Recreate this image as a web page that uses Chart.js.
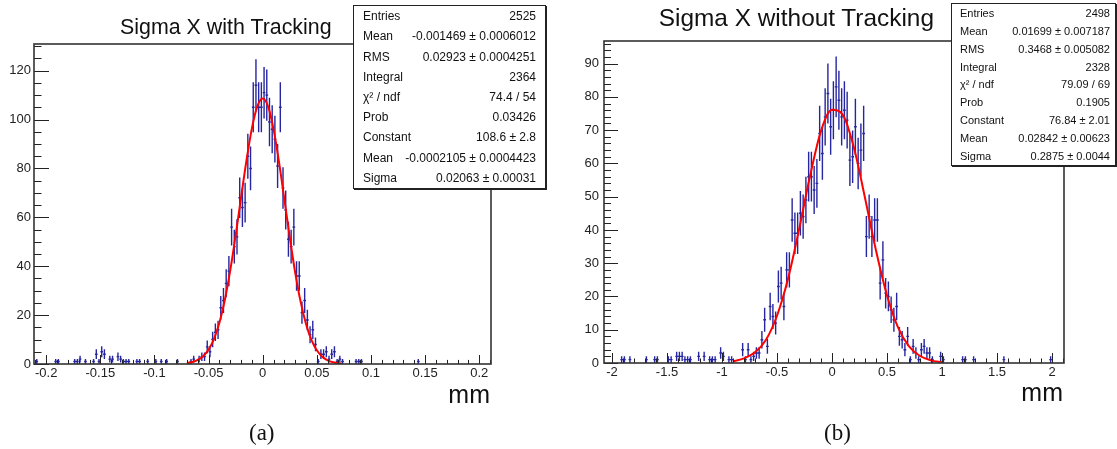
<!DOCTYPE html>
<html>
<head>
<meta charset="utf-8">
<script src="https://cdn.jsdelivr.net/npm/chart.js@4.4.1/dist/chart.umd.min.js"></script>
<style>
  body { margin: 0; background: #fff; }
  #wrap { position: relative; width: 1117px; height: 449px; overflow: hidden; font-family: 'Liberation Sans', Arial, sans-serif; color: #111; }
  canvas { position: absolute; top: 0; }
  .title { position: absolute; white-space: nowrap; line-height: 1; }
  .stats { position: absolute; background: #fff; border: 1px solid #222; box-shadow: 1px 1px 0 #222; box-sizing: border-box; }
  .stats .row { display: flex; justify-content: space-between; align-items: center; white-space: nowrap; }
  .unit { position: absolute; line-height: 1; font-size: 25px; }
  .cap { position: absolute; line-height: 1; font-family: 'Liberation Serif', 'DejaVu Serif', serif; font-size: 23px; }
</style>
</head>
<body>
<div id="wrap">
  <canvas id="chartA" width="560" height="449" style="left:0"></canvas>
  <canvas id="chartB" width="557" height="449" style="left:560px"></canvas>

  <div class="title" style="left:120px;top:17px;font-size:21.4px">Sigma X with Tracking</div>
  <div class="title" style="right:183px;top:6px;font-size:24.4px">Sigma X without Tracking</div>

  <div class="stats" id="statsA" style="left:353px;top:5px;width:193px;height:184px;font-size:12px;padding:0 9px"></div>
  <div class="stats" id="statsB" style="left:951px;top:3px;width:165px;height:163px;font-size:11px;padding:0 5px 0 8px"></div>

  <div class="unit" style="right:627px;top:382px">mm</div>
  <div class="unit" style="right:54px;top:380px">mm</div>
  <div class="cap" style="left:249px;top:421px">(a)</div>
  <div class="cap" style="left:824px;top:421px">(b)</div>
</div>

<script>
// ---- panel (a): with tracking, bin width 0.0025 mm ----
var binWA = 0.0025;
var centersA = [-0.20875, -0.19125, -0.18875, -0.17375, -0.17125, -0.16875, -0.16375, -0.15625,
  -0.15375, -0.15125, -0.14875, -0.14625, -0.14125, -0.13875, -0.13375, -0.13125, -0.12875,
  -0.12625, -0.12375, -0.11625, -0.11375, -0.10625, -0.09875, -0.09375, -0.08875, -0.07875,
  -0.06625, -0.06375, -0.05875, -0.05625, -0.05375, -0.05125, -0.04875, -0.04625, -0.04375,
  -0.04125, -0.03875, -0.03625, -0.03375, -0.03125, -0.02875, -0.02625, -0.02375, -0.02125,
  -0.01875, -0.01625, -0.01375, -0.01125, -0.00875, -0.00625, -0.00375, -0.00125,
  0.00125, 0.00375, 0.00625, 0.00875, 0.01125, 0.01375, 0.01625, 0.01875, 0.02125, 0.02375,
  0.02625, 0.02875, 0.03125, 0.03375, 0.03625, 0.03875, 0.04125, 0.04375, 0.04625, 0.04875,
  0.05125, 0.05375, 0.05625, 0.05875, 0.06125, 0.06375, 0.06625, 0.06875, 0.07125, 0.07375,
  0.08625, 0.08875, 0.09125, 0.14375];
var countsA = [1, 1, 1, 1, 1, 2, 1, 1,
  4, 1, 5, 4, 2, 2, 3, 2, 1,
  1, 1, 1, 1, 1, 1, 1, 1, 1,
  1, 2, 2, 3, 3, 7, 5, 10, 13,
  14, 23, 26, 33, 38, 56, 48, 52, 68,
  64, 66, 85, 80, 105, 114, 105, 105,
  111, 110, 99, 96, 92, 81, 105, 72, 63, 51,
  48, 56, 36, 36, 21, 26, 18, 12, 14, 8,
  1, 4, 4, 5, 2, 4, 5, 1, 2, 1,
  1, 1, 1, 1];
// red fit curve
var fitXA = [-0.07, -0.065, -0.06, -0.055, -0.05, -0.045, -0.04, -0.035, -0.03, -0.025, -0.02, -0.015,
  -0.01, -0.005, 0, 0.005, 0.01, 0.015, 0.02, 0.025, 0.03, 0.035, 0.04, 0.045, 0.05, 0.055, 0.06,
  0.065, 0.07, 0.073];
var fitYA = [0.35, 0.8, 1.7, 3.2, 5.9, 10.3, 16.9, 26.2, 38.3, 52.6, 68.1, 83.3,
  96.4, 105.4, 108.6, 105.3, 96.1, 82.8, 67.3, 51.8, 37.4, 25.5, 16.4, 9.9, 5.6, 3.0, 1.5,
  0.7, 0.3, 0.2];
var xTicksA = [-0.2, -0.15, -0.1, -0.05, 0, 0.05, 0.1, 0.15, 0.2];
var xLabelsA = ['-0.2', '-0.15', '-0.1', '-0.05', '0', '0.05', '0.1', '0.15', '0.2'];
var yTicksA = [0, 20, 40, 60, 80, 100, 120];

// ---- panel (b): without tracking, bin width 0.025 mm ----
var binWB = 0.025;
var centersB = [-1.9125, -1.8875, -1.8375, -1.6875, -1.6125, -1.5875, -1.4875, -1.4625, -1.4125,
  -1.3875, -1.3625, -1.3375, -1.3125, -1.2875, -1.2125, -1.1625, -1.1125, -1.0875, -1.0625,
  -1.0125, -0.9875, -0.9375, -0.9125, -0.8125, -0.7875, -0.7625, -0.7375, -0.7125, -0.6875,
  -0.6625, -0.6375, -0.6125, -0.5875, -0.5625, -0.5375, -0.5125, -0.4875, -0.4625, -0.4375,
  -0.4125, -0.3875, -0.3625, -0.3375, -0.3125, -0.2875, -0.2625, -0.2375, -0.2125, -0.1875,
  -0.1625, -0.1375, -0.1125, -0.0875, -0.0625, -0.0375, -0.0125, 0.0125, 0.0375, 0.0625,
  0.0875, 0.1125, 0.1375, 0.1625, 0.1875, 0.2125, 0.2375, 0.2625, 0.2875, 0.3125, 0.3375,
  0.3625, 0.3875, 0.4125, 0.4375, 0.4625, 0.4875, 0.5125, 0.5375, 0.5625, 0.5875, 0.6125,
  0.6375, 0.6625, 0.6875, 0.7125, 0.7375, 0.7625, 0.7875, 0.8125, 0.8375, 0.8625, 0.8875,
  0.9125, 0.9875, 1.0125, 1.1875, 1.2125, 1.2875, 1.5625, 1.9875];
var countsB = [1, 1, 1, 1, 1, 1, 1, 1, 2,
  2, 2, 1, 1, 1, 2, 2, 1, 1, 1,
  3, 2, 1, 1, 4, 1, 4, 1, 2, 3,
  3, 7, 13, 5, 17, 14, 12, 23, 24, 17,
  28, 28, 43, 39, 39, 45, 44, 49, 56, 56,
  52, 54, 69, 63, 74, 81, 71, 76, 83, 79,
  74, 76, 73, 61, 62, 71, 60, 64, 69, 38, 44,
  38, 43, 43, 24, 31, 21, 20, 16, 13, 17, 8,
  7, 4, 8, 1, 5, 3, 1, 4, 5, 3, 3,
  1, 2, 1, 1, 1, 1, 1, 1];
var fitXB = [-0.9, -0.8, -0.7, -0.6, -0.5, -0.4, -0.3, -0.2, -0.1, 0, 0.1, 0.2, 0.3, 0.4, 0.5,
  0.6, 0.7, 0.8, 0.9, 1.0];
var fitYB = [0.5, 1.4, 3.2, 7.0, 14.2, 25.3, 40.1, 56.2, 69.8, 76.1, 74.5, 64.6, 49.6, 33.8, 20.3,
  10.7, 5.0, 2.1, 0.8, 0.25];
var xTicksB = [-2, -1.5, -1, -0.5, 0, 0.5, 1, 1.5, 2];
var xLabelsB = ['-2', '-1.5', '-1', '-0.5', '0', '0.5', '1', '1.5', '2'];
var yTicksB = [0, 10, 20, 30, 40, 50, 60, 70, 80, 90];

// stat boxes
var statNames = ['Entries', 'Mean', 'RMS', 'Integral', 'χ² / ndf', 'Prob', 'Constant', 'Mean', 'Sigma'];
var statValsA = ['2525', '-0.001469 ± 0.0006012', '0.02923 ± 0.0004251', '2364', '74.4 / 54',
  '0.03426', '108.6 ± 2.8', '-0.0002105 ± 0.0004423', '0.02063 ± 0.00031'];
var statValsB = ['2498', '0.01699 ± 0.007187', '0.3468 ± 0.005082', '2328', '79.09 / 69',
  '0.1905', '76.84 ± 2.01', '0.02842 ± 0.00623', '0.2875 ± 0.0044'];


function fillStats(id, vals) {
    var box = document.getElementById(id);
    var h = (box.clientHeight) / statNames.length;
    statNames.forEach(function (name, i) {
        var row = document.createElement('div');
        row.className = 'row';
        row.style.height = h + 'px';
        var a = document.createElement('span');
        a.textContent = name;
        var b = document.createElement('span');
        b.textContent = vals[i];
        row.appendChild(a);
        row.appendChild(b);
        box.appendChild(row);
    });
}
fillStats('statsA', statValsA);
fillStats('statsB', statValsB);

function toPoints(xs, ys) {
    return xs.map(function (x, i) { return { x: x, y: ys[i] }; });
}

// ROOT look: error bars under the fit, frame and inward ticks on top
var rootPlugin = {
    id: 'rootHist',
    beforeDatasetsDraw: function (chart, args, o) {
        var ctx = chart.ctx, a = chart.chartArea, sx = chart.scales.x, sy = chart.scales.y;
        var pts = chart.data.datasets[0].data;
        ctx.save();
        ctx.beginPath();
        ctx.rect(a.left, a.top, a.right - a.left, a.bottom - a.top);
        ctx.clip();
        ctx.strokeStyle = '#2626a0';
        ctx.lineWidth = 1.4;
        ctx.beginPath();
        pts.forEach(function (p) {
            var e = Math.sqrt(p.y);
            var px = sx.getPixelForValue(p.x), py = sy.getPixelForValue(p.y);
            ctx.moveTo(px, sy.getPixelForValue(p.y - e));
            ctx.lineTo(px, sy.getPixelForValue(p.y + e));
            ctx.moveTo(sx.getPixelForValue(p.x - o.binW / 2), py);
            ctx.lineTo(sx.getPixelForValue(p.x + o.binW / 2), py);
        });
        ctx.stroke();
        ctx.restore();
    },
    afterDraw: function (chart, args, o) {
        var ctx = chart.ctx, a = chart.chartArea, sx = chart.scales.x, sy = chart.scales.y;
        ctx.save();
        ctx.strokeStyle = '#222';
        ctx.lineWidth = 1;
        ctx.beginPath();
        tickLines(sx, o.minorX, function (v, big) {
            var px = Math.round(sx.getPixelForValue(v)) + 0.5;
            ctx.moveTo(px, a.bottom);
            ctx.lineTo(px, a.bottom - (big ? o.xMaj : o.xMaj / 2.2));
        });
        tickLines(sy, o.minorY, function (v, big) {
            var py = Math.round(sy.getPixelForValue(v)) + 0.5;
            ctx.moveTo(a.left, py);
            ctx.lineTo(a.left + (big ? o.yMaj : o.yMaj / 2), py);
        });
        ctx.stroke();
        ctx.lineWidth = 1.6;
        ctx.strokeStyle = '#333';
        ctx.strokeRect(a.left, a.top, a.right - a.left, a.bottom - a.top);
        ctx.restore();
    }
};

function tickLines(scale, minorStep, draw) {
    var major = scale.ticks.map(function (t) { return t.value; });
    var step = major[1] - major[0];
    var n = Math.round(step / minorStep);
    major.forEach(function (v) { draw(v, true); });
    for (var i = -1; i < major.length; i++) {
        var base = major[0] + i * step;
        for (var k = 1; k < n; k++) {
            var v = base + k * minorStep;
            if (v > scale.min && v < scale.max) draw(v, false);
        }
    }
}

function makeChart(id, d) {
    return new Chart(document.getElementById(id), {
        type: 'scatter',
        data: {
            datasets: [
                { data: toPoints(d.cx, d.cnt), pointRadius: 0, order: 2 },
                {
                    data: toPoints(d.fx, d.fy), showLine: true, borderColor: '#ff0000',
                    borderWidth: 2, pointRadius: 0, cubicInterpolationMode: 'monotone', order: 1
                }
            ]
        },
        options: {
            responsive: false,
            animation: false,
            devicePixelRatio: 1,
            layout: { padding: d.pad },
            plugins: {
                legend: { display: false },
                tooltip: { enabled: false },
                rootHist: d.style
            },
            scales: {
                x: {
                    type: 'linear', min: d.xmin, max: d.xmax,
                    grid: { display: false, drawTicks: false }, border: { display: false },
                    afterBuildTicks: function (s) { s.ticks = d.xt.map(function (v) { return { value: v }; }); },
                    afterFit: function (s) { s.height = 30; },
                    ticks: {
                        padding: 2, maxRotation: 0, autoSkip: false, color: '#222',
                        font: { family: 'Liberation Sans', size: 13 },
                        callback: function (v, i) { return d.xl[i]; }
                    }
                },
                y: {
                    type: 'linear', min: 0, max: d.ymax,
                    grid: { display: false, drawTicks: false }, border: { display: false },
                    afterBuildTicks: function (s) { s.ticks = d.yt.map(function (v) { return { value: v }; }); },
                    afterFit: function (s) { s.width = d.yw; },
                    ticks: {
                        padding: d.ypad, color: '#222',
                        font: { family: 'Liberation Sans', size: 13 },
                        callback: function (v) { return String(v); }
                    }
                }
            }
        },
        plugins: [rootPlugin]
    });
}

var chartA = makeChart('chartA', {
    cx: centersA, cnt: countsA, fx: fitXA, fy: fitYA, xt: xTicksA, xl: xLabelsA, yt: yTicksA,
    xmin: -0.2113, xmax: 0.2109, ymax: 130.9, yw: 34, ypad: 3,
    pad: { top: 44, right: 69, bottom: 55, left: 0 },
    style: { binW: binWA, minorX: 0.01, minorY: 5, xMaj: 9, yMaj: 15 }
});

var chartB = makeChart('chartB', {
    cx: centersB, cnt: countsB, fx: fitXB, fy: fitYB, xt: xTicksB, xl: xLabelsB, yt: yTicksB,
    xmin: -2.073, xmax: 2.109, ymax: 96.8, yw: 44, ypad: 5,
    pad: { top: 41, right: 53, bottom: 56, left: 0 },
    style: { binW: binWB, minorX: 0.1, minorY: 2, xMaj: 10, yMaj: 14 }
});
</script>
</body>
</html>
